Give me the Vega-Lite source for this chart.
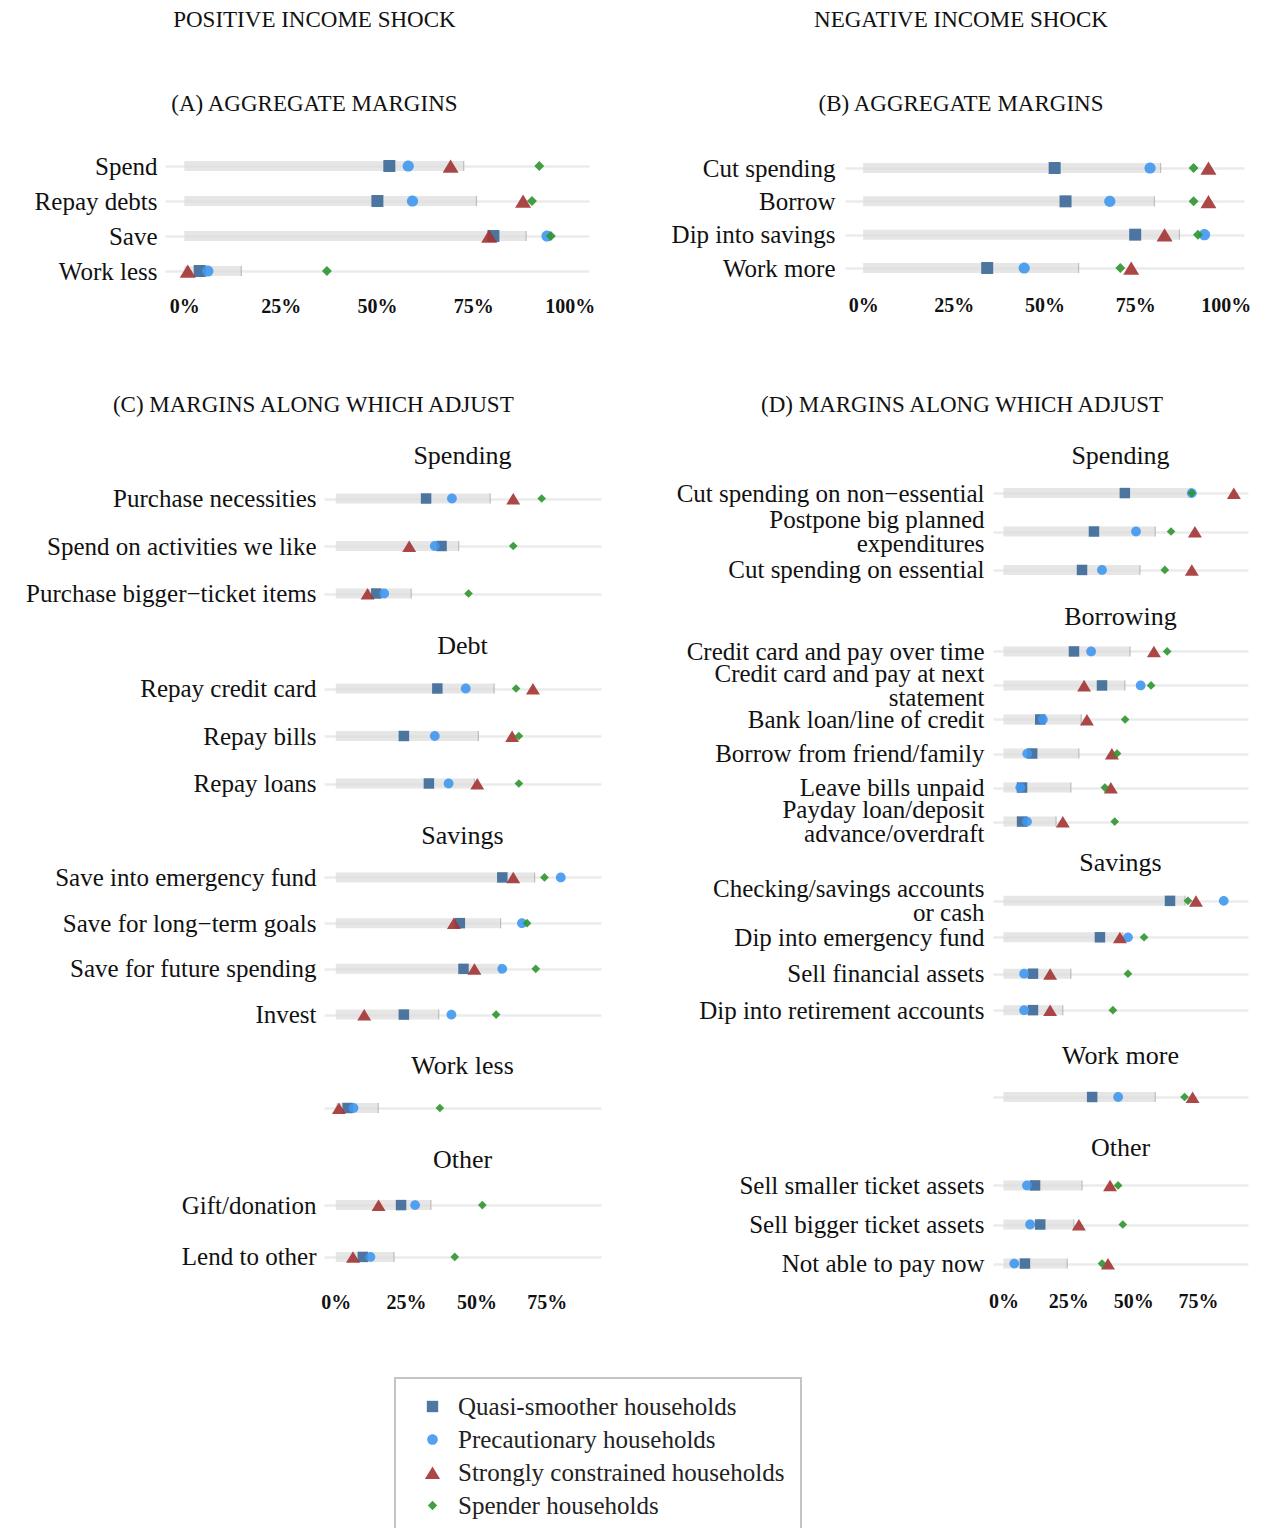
{
"$schema": "https://vega.github.io/schema/vega-lite/v6.json",
"background": "white",
"padding": {"left": 2, "top": 9, "right": 5, "bottom": 5},
"datasets": {"d": [
{"section":"A","label":"Spend","all":0.725,"Quasi-smoother households":0.532,"Precautionary households":0.581,"Strongly constrained households":0.691,"Spender households":0.921},
{"section":"A","label":"Repay debts","all":0.758,"Quasi-smoother households":0.501,"Precautionary households":0.592,"Strongly constrained households":0.879,"Spender households":0.902},
{"section":"A","label":"Save","all":0.887,"Quasi-smoother households":0.802,"Precautionary households":0.941,"Strongly constrained households":0.791,"Spender households":0.951},
{"section":"A","label":"Work less","all":0.148,"Quasi-smoother households":0.040,"Precautionary households":0.061,"Strongly constrained households":0.009,"Spender households":0.370},
{"section":"B","label":"Cut spending","all":0.820,"Quasi-smoother households":0.528,"Precautionary households":0.791,"Strongly constrained households":0.952,"Spender households":0.911},
{"section":"B","label":"Borrow","all":0.803,"Quasi-smoother households":0.558,"Precautionary households":0.680,"Strongly constrained households":0.952,"Spender households":0.911},
{"section":"B","label":"Dip into savings","all":0.872,"Quasi-smoother households":0.750,"Precautionary households":0.941,"Strongly constrained households":0.831,"Spender households":0.923},
{"section":"B","label":"Work more","all":0.594,"Quasi-smoother households":0.342,"Precautionary households":0.444,"Strongly constrained households":0.739,"Spender households":0.709},
{"section":"C1","label":"Purchase necessities","all":0.549,"Quasi-smoother households":0.321,"Precautionary households":0.413,"Strongly constrained households":0.631,"Spender households":0.732},
{"section":"C1","label":"Spend on activities we like","all":0.437,"Quasi-smoother households":0.376,"Precautionary households":0.352,"Strongly constrained households":0.261,"Spender households":0.631},
{"section":"C1","label":"Purchase bigger−ticket items","all":0.268,"Quasi-smoother households":0.144,"Precautionary households":0.172,"Strongly constrained households":0.113,"Spender households":0.472},
{"section":"C2","label":"Repay credit card","all":0.563,"Quasi-smoother households":0.361,"Precautionary households":0.462,"Strongly constrained households":0.701,"Spender households":0.641},
{"section":"C2","label":"Repay bills","all":0.507,"Quasi-smoother households":0.242,"Precautionary households":0.352,"Strongly constrained households":0.627,"Spender households":0.651},
{"section":"C2","label":"Repay loans","all":0.493,"Quasi-smoother households":0.331,"Precautionary households":0.401,"Strongly constrained households":0.503,"Spender households":0.651},
{"section":"C3","label":"Save into emergency fund","all":0.707,"Quasi-smoother households":0.592,"Precautionary households":0.800,"Strongly constrained households":0.631,"Spender households":0.742},
{"section":"C3","label":"Save for long−term goals","all":0.586,"Quasi-smoother households":0.441,"Precautionary households":0.662,"Strongly constrained households":0.420,"Spender households":0.680},
{"section":"C3","label":"Save for future spending","all":0.585,"Quasi-smoother households":0.454,"Precautionary households":0.592,"Strongly constrained households":0.493,"Spender households":0.711},
{"section":"C3","label":"Invest","all":0.366,"Quasi-smoother households":0.242,"Precautionary households":0.411,"Strongly constrained households":0.101,"Spender households":0.570},
{"section":"C4","label":"Work less","all":0.151,"Quasi-smoother households":0.042,"Precautionary households":0.063,"Strongly constrained households":0.011,"Spender households":0.370},
{"section":"C5","label":"Gift/donation","all":0.338,"Quasi-smoother households":0.232,"Precautionary households":0.282,"Strongly constrained households":0.152,"Spender households":0.521},
{"section":"C5","label":"Lend to other","all":0.207,"Quasi-smoother households":0.096,"Precautionary households":0.123,"Strongly constrained households":0.061,"Spender households":0.423},
{"section":"D1","label":"Cut spending on non−essential","all":0.720,"Quasi-smoother households":0.468,"Precautionary households":0.726,"Strongly constrained households":0.888,"Spender households":0.726},
{"section":"D1","label":"Postpone big planned \nexpenditures","all":0.585,"Quasi-smoother households":0.349,"Precautionary households":0.511,"Strongly constrained households":0.738,"Spender households":0.646},
{"section":"D1","label":"Cut spending on essential","all":0.526,"Quasi-smoother households":0.303,"Precautionary households":0.380,"Strongly constrained households":0.726,"Spender households":0.622},
{"section":"D2","label":"Credit card and pay over time","all":0.488,"Quasi-smoother households":0.272,"Precautionary households":0.338,"Strongly constrained households":0.580,"Spender households":0.631},
{"section":"D2","label":"Credit card and pay at next \nstatement","all":0.468,"Quasi-smoother households":0.380,"Precautionary households":0.529,"Strongly constrained households":0.311,"Spender households":0.569},
{"section":"D2","label":"Bank loan/line of credit","all":0.300,"Quasi-smoother households":0.142,"Precautionary households":0.152,"Strongly constrained households":0.322,"Spender households":0.469},
{"section":"D2","label":"Borrow from friend/family","all":0.291,"Quasi-smoother households":0.111,"Precautionary households":0.092,"Strongly constrained households":0.418,"Spender households":0.438},
{"section":"D2","label":"Leave bills unpaid","all":0.260,"Quasi-smoother households":0.072,"Precautionary households":0.065,"Strongly constrained households":0.414,"Spender households":0.391},
{"section":"D2","label":"Payday loan/deposit \nadvance/overdraft","all":0.203,"Quasi-smoother households":0.072,"Precautionary households":0.091,"Strongly constrained households":0.229,"Spender households":0.429},
{"section":"D3","label":"Checking/savings accounts \nor cash","all":0.700,"Quasi-smoother households":0.642,"Precautionary households":0.849,"Strongly constrained households":0.742,"Spender households":0.711},
{"section":"D3","label":"Dip into emergency fund","all":0.460,"Quasi-smoother households":0.372,"Precautionary households":0.480,"Strongly constrained households":0.449,"Spender households":0.542},
{"section":"D3","label":"Sell financial assets","all":0.260,"Quasi-smoother households":0.114,"Precautionary households":0.080,"Strongly constrained households":0.180,"Spender households":0.480},
{"section":"D3","label":"Dip into retirement accounts","all":0.229,"Quasi-smoother households":0.114,"Precautionary households":0.080,"Strongly constrained households":0.180,"Spender households":0.422},
{"section":"D4","label":"Work more","all":0.585,"Quasi-smoother households":0.342,"Precautionary households":0.442,"Strongly constrained households":0.729,"Spender households":0.698},
{"section":"D5","label":"Sell smaller ticket assets","all":0.303,"Quasi-smoother households":0.122,"Precautionary households":0.091,"Strongly constrained households":0.411,"Spender households":0.442},
{"section":"D5","label":"Sell bigger ticket assets","all":0.272,"Quasi-smoother households":0.142,"Precautionary households":0.103,"Strongly constrained households":0.291,"Spender households":0.460},
{"section":"D5","label":"Not able to pay now","all":0.246,"Quasi-smoother households":0.083,"Precautionary households":0.042,"Strongly constrained households":0.403,"Spender households":0.380}
]},
"data": {"name": "d"},
"spacing": 78,
"vconcat": [
{"spacing": 31, "hconcat": [
 {"width": 1, "height": 1, "data": {"values": []}, "mark": {"type": "point", "opacity": 0}, "encoding": {}},
 {"spacing": 76, "hconcat": [
 {"width": 424, "height": 147,
  "title": {"text": "POSITIVE INCOME SHOCK", "subtitle": "(A) AGGREGATE MARGINS", "fontSize": 23, "subtitleFontSize": 23, "subtitlePadding": 61, "offset": 29, "frame": "bounds"},
  "transform": [{"filter": "datum.section === 'A'"}],
  "encoding": {"y": {"field": "label", "type": "nominal", "sort": null, "title": null, "scale": {"type": "point", "padding": 0.6}, "axis": {"labelPadding": 8}}},
  "layer": [
   {"mark": {"type": "bar", "size": 10, "color": "#dddddd", "opacity": 0.75}, "encoding": {"x": {"field": "all", "type": "quantitative", "scale": {"domain": [-0.05, 1.05], "nice": false}, "axis": {"values": [0, 0.25, 0.5, 0.75, 1], "format": ".0%"}, "title": null}}},
   {"mark": {"type": "tick", "orient": "vertical", "size": 10, "thickness": 1.2, "color": "#a8a8a8"}, "encoding": {"x": {"field": "all", "type": "quantitative", "title": null}}},
   {"transform": [{"fold": ["Quasi-smoother households","Precautionary households","Strongly constrained households","Spender households"], "as": ["group", "value"]}],
    "mark": {"type": "point", "filled": true, "size": 256, "opacity": 0.9},
    "encoding": {"x": {"field": "value", "type": "quantitative", "title": null},
     "color": {"field": "group", "type": "nominal", "scale": {"domain": ["Quasi-smoother households","Precautionary households","Strongly constrained households","Spender households"], "range": ["#3b6898","#3f98f0","#a33333","#2e952e"]}, "legend": {"title": null}},
     "shape": {"field": "group", "type": "nominal", "scale": {"domain": ["Quasi-smoother households","Precautionary households","Strongly constrained households","Spender households"], "range": ["M-0.75,-0.75L0.75,-0.75L0.75,0.75L-0.75,0.75Z","M-0.7,0A0.7,0.7,0,1,1,0.7,0A0.7,0.7,0,1,1,-0.7,0Z","M0,-0.8L1,0.85L-1,0.85Z","M0,-0.62L0.62,0L0,0.62L-0.62,0Z"]}, "legend": {"title": null}}}}
  ]},
 {"width": 399, "height": 146,
  "title": {"text": "NEGATIVE INCOME SHOCK", "subtitle": "(B) AGGREGATE MARGINS", "fontSize": 23, "subtitleFontSize": 23, "subtitlePadding": 61, "offset": 29, "frame": "bounds"},
  "transform": [{"filter": "datum.section === 'B'"}],
  "encoding": {"y": {"field": "label", "type": "nominal", "sort": null, "title": null, "scale": {"type": "point", "padding": 0.69}, "axis": {"labelPadding": 10}}},
  "layer": [
   {"mark": {"type": "bar", "size": 10, "color": "#dddddd", "opacity": 0.75}, "encoding": {"x": {"field": "all", "type": "quantitative", "scale": {"domain": [-0.05, 1.05], "nice": false}, "axis": {"values": [0, 0.25, 0.5, 0.75, 1], "format": ".0%"}, "title": null}}},
   {"mark": {"type": "tick", "orient": "vertical", "size": 10, "thickness": 1.2, "color": "#a8a8a8"}, "encoding": {"x": {"field": "all", "type": "quantitative", "title": null}}},
   {"transform": [{"fold": ["Quasi-smoother households","Precautionary households","Strongly constrained households","Spender households"], "as": ["group", "value"]}],
    "mark": {"type": "point", "filled": true, "size": 256, "opacity": 0.9},
    "encoding": {"x": {"field": "value", "type": "quantitative", "title": null},
     "color": {"field": "group", "type": "nominal", "legend": {"title": null}},
     "shape": {"field": "group", "type": "nominal", "legend": {"title": null}}}}
  ]}
 ]}
]},
{"spacing": 22, "hconcat": [
 {"width": 1, "height": 1, "data": {"values": []}, "mark": {"type": "point", "opacity": 0}, "encoding": {}},
 {"spacing": 75, "hconcat": [
 {"title": {"text": "(C) MARGINS ALONG WHICH ADJUST", "fontSize": 23, "offset": 26, "frame": "bounds"},
  "spacing": 11,
  "vconcat": [
   {"width": 277, "height": 152, "title": {"text": "Spending", "fontSize": 26, "offset": 1, "frame": "group"},
    "transform": [{"filter": "datum.section === 'C1'"}],
    "encoding": {"y": {"field": "label", "type": "nominal", "sort": null, "title": null, "scale": {"type": "point", "padding": 0.6}, "axis": {"labelPadding": 8}}},
    "layer": [
     {"mark": {"type": "bar", "size": 10, "color": "#dddddd", "opacity": 0.75}, "encoding": {"x": {"field": "all", "type": "quantitative", "scale": {"domain": [-0.042, 0.943], "nice": false}, "axis": null, "title": null}}},
     {"mark": {"type": "tick", "orient": "vertical", "size": 10, "thickness": 1.2, "color": "#a8a8a8"}, "encoding": {"x": {"field": "all", "type": "quantitative", "axis": null, "title": null}}},
     {"transform": [{"fold": ["Quasi-smoother households","Precautionary households","Strongly constrained households","Spender households"], "as": ["group", "value"]}],
      "mark": {"type": "point", "filled": true, "size": 195, "opacity": 0.9},
      "encoding": {"x": {"field": "value", "type": "quantitative", "axis": null, "title": null},
       "color": {"field": "group", "type": "nominal", "legend": {"title": null}},
       "shape": {"field": "group", "type": "nominal", "legend": {"title": null}}}}
    ]},
   {"width": 277, "height": 152, "title": {"text": "Debt", "fontSize": 26, "offset": 1, "frame": "group"},
    "transform": [{"filter": "datum.section === 'C2'"}],
    "encoding": {"y": {"field": "label", "type": "nominal", "sort": null, "title": null, "scale": {"type": "point", "padding": 0.6}, "axis": {"labelPadding": 8}}},
    "layer": [
     {"mark": {"type": "bar", "size": 10, "color": "#dddddd", "opacity": 0.75}, "encoding": {"x": {"field": "all", "type": "quantitative", "scale": {"domain": [-0.042, 0.943], "nice": false}, "axis": null, "title": null}}},
     {"mark": {"type": "tick", "orient": "vertical", "size": 10, "thickness": 1.2, "color": "#a8a8a8"}, "encoding": {"x": {"field": "all", "type": "quantitative", "axis": null, "title": null}}},
     {"transform": [{"fold": ["Quasi-smoother households","Precautionary households","Strongly constrained households","Spender households"], "as": ["group", "value"]}],
      "mark": {"type": "point", "filled": true, "size": 195, "opacity": 0.9},
      "encoding": {"x": {"field": "value", "type": "quantitative", "axis": null, "title": null},
       "color": {"field": "group", "type": "nominal", "legend": {"title": null}},
       "shape": {"field": "group", "type": "nominal", "legend": {"title": null}}}}
    ]},
   {"width": 277, "height": 192, "title": {"text": "Savings", "fontSize": 26, "offset": 1, "frame": "group"},
    "transform": [{"filter": "datum.section === 'C3'"}],
    "encoding": {"y": {"field": "label", "type": "nominal", "sort": null, "title": null, "scale": {"type": "point", "padding": 0.6}, "axis": {"labelPadding": 8}}},
    "layer": [
     {"mark": {"type": "bar", "size": 10, "color": "#dddddd", "opacity": 0.75}, "encoding": {"x": {"field": "all", "type": "quantitative", "scale": {"domain": [-0.042, 0.943], "nice": false}, "axis": null, "title": null}}},
     {"mark": {"type": "tick", "orient": "vertical", "size": 10, "thickness": 1.2, "color": "#a8a8a8"}, "encoding": {"x": {"field": "all", "type": "quantitative", "axis": null, "title": null}}},
     {"transform": [{"fold": ["Quasi-smoother households","Precautionary households","Strongly constrained households","Spender households"], "as": ["group", "value"]}],
      "mark": {"type": "point", "filled": true, "size": 195, "opacity": 0.9},
      "encoding": {"x": {"field": "value", "type": "quantitative", "axis": null, "title": null},
       "color": {"field": "group", "type": "nominal", "legend": {"title": null}},
       "shape": {"field": "group", "type": "nominal", "legend": {"title": null}}}}
    ]},
   {"width": 277, "height": 56, "title": {"text": "Work less", "fontSize": 26, "offset": 1, "frame": "group"},
    "transform": [{"filter": "datum.section === 'C4'"}],
    "encoding": {"y": {"field": "label", "type": "nominal", "sort": null, "title": null, "scale": {"type": "point", "padding": 0.6}, "axis": {"labels": false}}},
    "layer": [
     {"mark": {"type": "bar", "size": 10, "color": "#dddddd", "opacity": 0.75}, "encoding": {"x": {"field": "all", "type": "quantitative", "scale": {"domain": [-0.042, 0.943], "nice": false}, "axis": null, "title": null}}},
     {"mark": {"type": "tick", "orient": "vertical", "size": 10, "thickness": 1.2, "color": "#a8a8a8"}, "encoding": {"x": {"field": "all", "type": "quantitative", "axis": null, "title": null}}},
     {"transform": [{"fold": ["Quasi-smoother households","Precautionary households","Strongly constrained households","Spender households"], "as": ["group", "value"]}],
      "mark": {"type": "point", "filled": true, "size": 195, "opacity": 0.9},
      "encoding": {"x": {"field": "value", "type": "quantitative", "axis": null, "title": null},
       "color": {"field": "group", "type": "nominal", "legend": {"title": null}},
       "shape": {"field": "group", "type": "nominal", "legend": {"title": null}}}}
    ]},
   {"width": 277, "height": 114, "title": {"text": "Other", "fontSize": 26, "offset": 1, "frame": "group"},
    "transform": [{"filter": "datum.section === 'C5'"}],
    "encoding": {"y": {"field": "label", "type": "nominal", "sort": null, "title": null, "scale": {"type": "point", "padding": 0.6}, "axis": {"labelPadding": 8}}},
    "layer": [
     {"mark": {"type": "bar", "size": 10, "color": "#dddddd", "opacity": 0.75}, "encoding": {"x": {"field": "all", "type": "quantitative", "scale": {"domain": [-0.042, 0.943], "nice": false}, "axis": {"values": [0, 0.25, 0.5, 0.75], "format": ".0%"}, "title": null}}},
     {"mark": {"type": "tick", "orient": "vertical", "size": 10, "thickness": 1.2, "color": "#a8a8a8"}, "encoding": {"x": {"field": "all", "type": "quantitative", "title": null}}},
     {"transform": [{"fold": ["Quasi-smoother households","Precautionary households","Strongly constrained households","Spender households"], "as": ["group", "value"]}],
      "mark": {"type": "point", "filled": true, "size": 195, "opacity": 0.9},
      "encoding": {"x": {"field": "value", "type": "quantitative", "title": null},
       "color": {"field": "group", "type": "nominal", "legend": {"title": null}},
       "shape": {"field": "group", "type": "nominal", "legend": {"title": null}}}}
    ]}
  ]},
 {"title": {"text": "(D) MARGINS ALONG WHICH ADJUST", "fontSize": 23, "offset": 26, "frame": "bounds"},
  "spacing": 2,
  "vconcat": [
  {"spacing": 11, "vconcat": [
   {"width": 255, "height": 123, "title": {"text": "Spending", "fontSize": 26, "offset": 1, "frame": "group"},
    "transform": [{"filter": "datum.section === 'D1'"}],
    "encoding": {"y": {"field": "label", "type": "nominal", "sort": null, "title": null, "scale": {"type": "point", "padding": 0.6}, "axis": {"labelPadding": 9, "labelExpr": "split(datum.label, '\\n')", "labelLineHeight": 24, "labelOffset": {"condition": {"test": "indexof(datum.value, '\\n') >= 0", "value": -12}, "value": 0}}}},
    "layer": [
     {"mark": {"type": "bar", "size": 10, "color": "#dddddd", "opacity": 0.75}, "encoding": {"x": {"field": "all", "type": "quantitative", "scale": {"domain": [-0.04, 0.9425], "nice": false}, "axis": null, "title": null}}},
     {"mark": {"type": "tick", "orient": "vertical", "size": 10, "thickness": 1.2, "color": "#a8a8a8"}, "encoding": {"x": {"field": "all", "type": "quantitative", "axis": null, "title": null}}},
     {"transform": [{"fold": ["Quasi-smoother households","Precautionary households","Strongly constrained households","Spender households"], "as": ["group", "value"]}],
      "mark": {"type": "point", "filled": true, "size": 195, "opacity": 0.9},
      "encoding": {"x": {"field": "value", "type": "quantitative", "axis": null, "title": null},
       "color": {"field": "group", "type": "nominal", "legend": {"title": null}},
       "shape": {"field": "group", "type": "nominal", "legend": {"title": null}}}}
    ]},
   {"width": 255, "height": 211, "title": {"text": "Borrowing", "fontSize": 26, "offset": 1, "frame": "group"},
    "transform": [{"filter": "datum.section === 'D2'"}],
    "encoding": {"y": {"field": "label", "type": "nominal", "sort": null, "title": null, "scale": {"type": "point", "padding": 0.6}, "axis": {"labelPadding": 9, "labelExpr": "split(datum.label, '\\n')", "labelLineHeight": 24, "labelOffset": {"condition": {"test": "indexof(datum.value, '\\n') >= 0", "value": -12}, "value": 0}}}},
    "layer": [
     {"mark": {"type": "bar", "size": 10, "color": "#dddddd", "opacity": 0.75}, "encoding": {"x": {"field": "all", "type": "quantitative", "scale": {"domain": [-0.04, 0.9425], "nice": false}, "axis": null, "title": null}}},
     {"mark": {"type": "tick", "orient": "vertical", "size": 10, "thickness": 1.2, "color": "#a8a8a8"}, "encoding": {"x": {"field": "all", "type": "quantitative", "axis": null, "title": null}}},
     {"transform": [{"fold": ["Quasi-smoother households","Precautionary households","Strongly constrained households","Spender households"], "as": ["group", "value"]}],
      "mark": {"type": "point", "filled": true, "size": 195, "opacity": 0.9},
      "encoding": {"x": {"field": "value", "type": "quantitative", "axis": null, "title": null},
       "color": {"field": "group", "type": "nominal", "legend": {"title": null}},
       "shape": {"field": "group", "type": "nominal", "legend": {"title": null}}}}
    ]}
  ]},
  {"spacing": 11, "vconcat": [
   {"width": 255, "height": 153, "title": {"text": "Savings", "fontSize": 26, "offset": 1, "frame": "group"},
    "transform": [{"filter": "datum.section === 'D3'"}],
    "encoding": {"y": {"field": "label", "type": "nominal", "sort": null, "title": null, "scale": {"type": "point", "padding": 0.6}, "axis": {"labelPadding": 9, "labelExpr": "split(datum.label, '\\n')", "labelLineHeight": 24, "labelOffset": {"condition": {"test": "indexof(datum.value, '\\n') >= 0", "value": -12}, "value": 0}}}},
    "layer": [
     {"mark": {"type": "bar", "size": 10, "color": "#dddddd", "opacity": 0.75}, "encoding": {"x": {"field": "all", "type": "quantitative", "scale": {"domain": [-0.04, 0.9425], "nice": false}, "axis": null, "title": null}}},
     {"mark": {"type": "tick", "orient": "vertical", "size": 10, "thickness": 1.2, "color": "#a8a8a8"}, "encoding": {"x": {"field": "all", "type": "quantitative", "axis": null, "title": null}}},
     {"transform": [{"fold": ["Quasi-smoother households","Precautionary households","Strongly constrained households","Spender households"], "as": ["group", "value"]}],
      "mark": {"type": "point", "filled": true, "size": 195, "opacity": 0.9},
      "encoding": {"x": {"field": "value", "type": "quantitative", "axis": null, "title": null},
       "color": {"field": "group", "type": "nominal", "legend": {"title": null}},
       "shape": {"field": "group", "type": "nominal", "legend": {"title": null}}}}
    ]},
   {"width": 255, "height": 54, "title": {"text": "Work more", "fontSize": 26, "offset": 1, "frame": "group"},
    "transform": [{"filter": "datum.section === 'D4'"}],
    "encoding": {"y": {"field": "label", "type": "nominal", "sort": null, "title": null, "scale": {"type": "point", "padding": 0.6}, "axis": {"labels": false}}},
    "layer": [
     {"mark": {"type": "bar", "size": 10, "color": "#dddddd", "opacity": 0.75}, "encoding": {"x": {"field": "all", "type": "quantitative", "scale": {"domain": [-0.04, 0.9425], "nice": false}, "axis": null, "title": null}}},
     {"mark": {"type": "tick", "orient": "vertical", "size": 10, "thickness": 1.2, "color": "#a8a8a8"}, "encoding": {"x": {"field": "all", "type": "quantitative", "axis": null, "title": null}}},
     {"transform": [{"fold": ["Quasi-smoother households","Precautionary households","Strongly constrained households","Spender households"], "as": ["group", "value"]}],
      "mark": {"type": "point", "filled": true, "size": 195, "opacity": 0.9},
      "encoding": {"x": {"field": "value", "type": "quantitative", "axis": null, "title": null},
       "color": {"field": "group", "type": "nominal", "legend": {"title": null}},
       "shape": {"field": "group", "type": "nominal", "legend": {"title": null}}}}
    ]},
   {"width": 255, "height": 125, "title": {"text": "Other", "fontSize": 26, "offset": 1, "frame": "group"},
    "transform": [{"filter": "datum.section === 'D5'"}],
    "encoding": {"y": {"field": "label", "type": "nominal", "sort": null, "title": null, "scale": {"type": "point", "padding": 0.6}, "axis": {"labelPadding": 9}}},
    "layer": [
     {"mark": {"type": "bar", "size": 10, "color": "#dddddd", "opacity": 0.75}, "encoding": {"x": {"field": "all", "type": "quantitative", "scale": {"domain": [-0.04, 0.9425], "nice": false}, "axis": {"values": [0, 0.25, 0.5, 0.75], "format": ".0%"}, "title": null}}},
     {"mark": {"type": "tick", "orient": "vertical", "size": 10, "thickness": 1.2, "color": "#a8a8a8"}, "encoding": {"x": {"field": "all", "type": "quantitative", "title": null}}},
     {"transform": [{"fold": ["Quasi-smoother households","Precautionary households","Strongly constrained households","Spender households"], "as": ["group", "value"]}],
      "mark": {"type": "point", "filled": true, "size": 195, "opacity": 0.9},
      "encoding": {"x": {"field": "value", "type": "quantitative", "title": null},
       "color": {"field": "group", "type": "nominal", "legend": {"title": null}},
       "shape": {"field": "group", "type": "nominal", "legend": {"title": null}}}}
    ]}
  ]}
  ]}
 ]}
]}
],
"config": {
 "font": "Liberation Serif",
 "view": {"stroke": null},
 "axis": {"grid": false, "domain": false, "ticks": false, "tickSize": 0, "labelColor": "#111111", "labelFont": "Liberation Serif"},
 "axisY": {"labelFontSize": 25, "labelLimit": 500, "grid": true, "gridColor": "#ebebeb", "gridWidth": 2.5},
 "axisX": {"labelFontSize": 20, "labelFontWeight": "bold", "labelPadding": 4},
 "title": {"font": "Liberation Serif", "subtitleFont": "Liberation Serif", "fontWeight": "normal", "subtitleFontWeight": "normal", "color": "#111111", "subtitleColor": "#111111", "anchor": "middle"},
 "legend": {"orient": "none", "legendX": 393, "legendY": 1233, "padding": 16, "strokeColor": "#c4c4c4", "strokeWidth": 2, "fillColor": "white", "labelFont": "Liberation Serif", "labelFontSize": 25, "labelColor": "#222222", "labelLimit": 600, "symbolSize": 230, "symbolOffset": 9, "labelOffset": 13, "rowPadding": 7, "symbolStrokeWidth": 0}
}
}
